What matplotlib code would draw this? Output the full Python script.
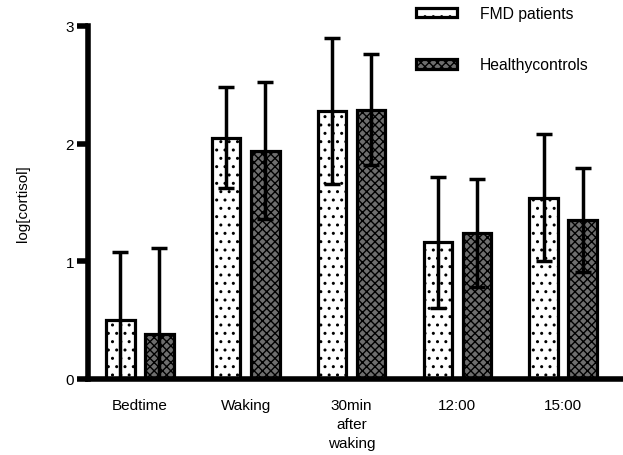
import matplotlib.pyplot as plt
import numpy as np

plt.rcParams['font.family'] = ['Liberation Sans', 'DejaVu Sans']
plt.rcParams['hatch.linewidth'] = 1.0

categories = ["Bedtime", "Waking", "30min\nafter\nwaking", "12:00", "15:00"]
fmd_mean = [0.50, 2.05, 2.28, 1.16, 1.54]
fmd_err = [0.58, 0.43, 0.62, 0.56, 0.54]
hc_mean = [0.38, 1.94, 2.29, 1.24, 1.35]
hc_err = [0.73, 0.58, 0.47, 0.46, 0.44]

x = np.arange(len(categories))
width = 0.27
off = 0.185

fig = plt.figure(figsize=(6.23, 4.56), dpi=100)
ax = fig.add_axes([0.1413, 0.1667, 0.8587, 0.7741])

b1 = ax.bar(x - off, fmd_mean, width, color='white', edgecolor='black',
            linewidth=2.3, hatch='..', label='FMD patients', zorder=2)
b2 = ax.bar(x + off, hc_mean, width, color='#6e6e6e', edgecolor='black',
            linewidth=2.3, hatch='xxxx', label='Healthycontrols', zorder=2)

ax.errorbar(x - off, fmd_mean, yerr=fmd_err, fmt='none', ecolor='black',
            elinewidth=2.5, capsize=5.5, capthick=2.5, zorder=3)
ax.errorbar(x + off, hc_mean, yerr=hc_err, fmt='none', ecolor='black',
            elinewidth=2.5, capsize=5.5, capthick=2.5, zorder=3)

ax.set_xlim(-0.49, 4.565)
ax.set_ylim(0, 3)
ax.set_yticks([0, 1, 2, 3])
ax.set_xticks(x)
ax.set_xticklabels(categories, fontsize=11, linespacing=1.45)
ax.tick_params(axis='x', length=0, pad=14)
ax.tick_params(axis='y', length=8, width=4, labelsize=11, pad=2)
for s in ['top', 'right']:
    ax.spines[s].set_visible(False)
ax.spines['left'].set_linewidth(4)
ax.spines['bottom'].set_linewidth(4)
ax.set_ylabel('log[cortisol]', fontsize=11, labelpad=26)

fig.legend(handles=[b1, b2], loc='upper left', bbox_to_anchor=(0.645, 1.015),
           frameon=False, fontsize=11.3, labelspacing=2.3, handlelength=2.6,
           handleheight=0.55, handletextpad=1.45)

plt.savefig('out.png', dpi=100)
